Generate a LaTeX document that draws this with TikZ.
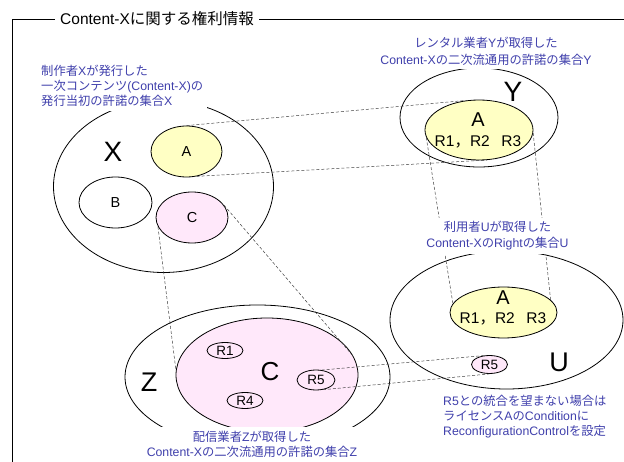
\documentclass[tikz,border=0pt]{standalone}
\usepackage{fontspec}
\setmainfont{Liberation Sans}
\newfontfamily\jp{Noto Sans CJK JP}
\usetikzlibrary{shapes.geometric}
\definecolor{lblue}{RGB}{64,64,172}
\definecolor{yel}{RGB}{255,255,196}
\definecolor{pnk}{RGB}{255,232,250}
\newcommand\J[1]{{\jp #1}}
\newcommand\fs[2]{\fontsize{#1}{#2}\selectfont}
\begin{document}
\begin{tikzpicture}[x=1pt,y=-1pt,
  set/.style={ellipse,draw,line width=0.8pt,inner sep=0pt},
  link/.style={draw=black!75,line width=0.5pt,dash pattern=on 3pt off 2pt},
  lbl/.style={text=lblue,fill=white,inner sep=4pt},
  txt/.style={inner sep=0pt},
]
\useasboundingbox (0,0) rectangle (624,462);
% frame
\coordinate (fbl) at (12,462);
\coordinate (ftl) at (12,19);
\coordinate (ftr) at (624,19);
\draw[line width=0.8pt] (fbl) -- (ftl) -- (ftr);

% set X
\node[set,minimum width=220pt,minimum height=172pt] (X) at (163.5,186.5) {};
\node[set,fill=yel,minimum width=71pt,minimum height=51pt,font=\fs{14.5}{16}] (Ax) at (186.5,151.5) {A};
\node[set,minimum width=73pt,minimum height=51pt,font=\fs{14.5}{16}] (B) at (115.5,202.5) {B};
\node[set,fill=pnk,minimum width=72pt,minimum height=51pt,font=\fs{14.5}{16}] (Cx) at (192,217.5) {C};
\node[txt,font=\fs{28}{30}] (tX) at (113,152) {X};

% set Y
\node[set,minimum width=158pt,minimum height=99pt] (Y) at (479,117.5) {};
\node[set,fill=yel,minimum width=108pt,minimum height=60pt] (Ay) at (479,130) {};
\node[txt,font=\fs{28}{30}] (tY) at (513,92) {Y};
\node[txt,font=\fs{20}{22}] (tAy) at (478,120) {A};
\node[txt,font=\fs{15.5}{18}] (rAy) at (478,142) {R1\J{，}R2\hspace{0.75em}R3};

% set U
\node[set,minimum width=233pt,minimum height=138pt] (U) at (506.5,320) {};
\node[set,fill=yel,minimum width=107pt,minimum height=51pt] (Au) at (503.5,312.5) {};
\node[txt,font=\fs{20}{22}] (tAu) at (503,298) {A};
\node[txt,font=\fs{15.5}{18}] (rAu) at (503,319) {R1\J{，}R2\hspace{0.75em}R3};
\node[set,fill=pnk,minimum width=36pt,minimum height=18pt,font=\fs{13.5}{15}] (R5u) at (489.5,364.5) {R5};
\node[txt,font=\fs{27}{30}] (tU) at (559,362) {U};

% set Z
\node[set,minimum width=265pt,minimum height=144pt] (Z) at (257.5,377) {};
\node[set,fill=pnk,minimum width=182pt,minimum height=114pt] (Cz) at (267,375) {};
\node[set,minimum width=36pt,minimum height=16pt,font=\fs{13.5}{15}] (R1) at (225,350.5) {R1};
\node[set,minimum width=36pt,minimum height=16pt,font=\fs{13.5}{15}] (R4) at (245,400.5) {R4};
\node[set,minimum width=38pt,minimum height=20pt,font=\fs{13.5}{15}] (R5z) at (316,380) {R5};
\node[txt,font=\fs{26}{28}] (tC) at (270,372) {C};
\node[txt,font=\fs{27}{30}] (tZ) at (149,382) {Z};

% dashed links
\draw[link] (Ax.90) -- (Ay.112);
\draw[link] (Ax.292) -- (Ay.285);
\draw[link] (Ay.188) -- (Au.170);
\draw[link] (Ay.357) -- (Au.15);
\draw[link] (Cx.195) -- (Cz.177);
\draw[link] (Cx.21) -- (Cz.12);
\draw[link] (R5z.60) -- (R5u.124);
\draw[link] (R5z.305) -- (R5u.270);

% labels
\node[lbl,anchor=west,align=left,font=\fs{12.3}{15}] (lX) at (37,86)
  {\J{制作者}X\J{が発行した}\\\J{一次コンテンツ}(Content-X)\J{の}\\\J{発行当初の許諾の集合}X};
\node[lbl,align=center,font=\fs{12.3}{16.5}] (lY) at (486,51.5)
  {\J{レンタル業者}Y\J{が取得した}\\Content-X\J{の二次流通用の許諾の集合}Y};
\node[lbl,align=center,font=\fs{12.3}{16}] (lU) at (497.5,236)
  {\J{利用者}U\J{が取得した}\\Content-X\J{の}Right\J{の集合}U};
\node[lbl,align=center,font=\fs{12.3}{15}] (lZ) at (252,444.5)
  {\J{配信業者}Z\J{が取得した}\\Content-X\J{の二次流通用の許諾の集合}Z};
\node[lbl,anchor=west,align=left,font=\fs{12.3}{15}] (lR) at (439,417)
  {R5\J{との統合を望まない場合は}\\\J{ライセンス}A\J{の}Condition\J{に}\\ReconfigurationControl\J{を設定}};

% title
\node[fill=white,inner xsep=5pt,inner ysep=2pt,anchor=west,font=\fs{15.5}{18}] (title) at (55,19)
  {Content-X\J{に関する権利情報}};
\end{tikzpicture}
\end{document}
